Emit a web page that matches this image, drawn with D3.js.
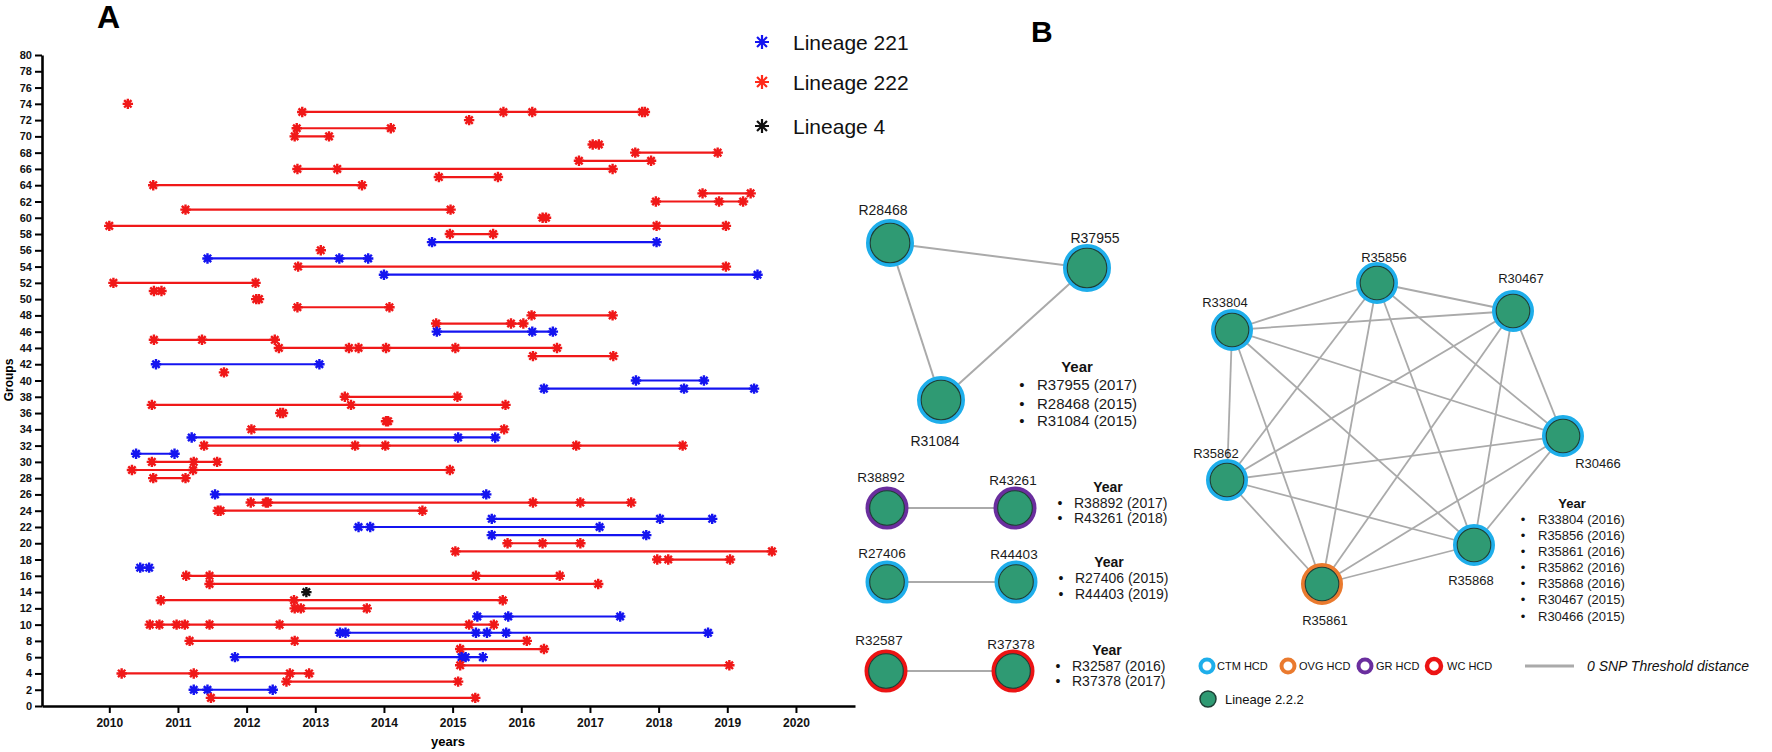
<!DOCTYPE html>
<html>
<head>
<meta charset="utf-8">
<script src="https://cdn.jsdelivr.net/npm/d3@7"></script>
<style>
  body { margin: 0; background: #fff; }
  svg { display: block; }
  text { font-family: "Liberation Sans", Arial, sans-serif; }
</style>
</head>
<body>
<div id="chart"></div>
<script>
// ---- Panel A data: one entry per group row ----
const groupIds = [74, 73, 72, 71, 70, 69, 68, 67, 66, 65, 64, 63, 62, 61, 60, 59, 58, 57, 56, 55,
  54, 53, 52, 51, 50, 49, 48, 47, 46, 45, 44, 43, 42, 41, 40, 39, 38, 37, 36, 35, 34, 33, 32, 31,
  30, 29, 28, 26, 25, 24, 23, 22, 21, 20, 19, 18, 17, 16, 15, 14, 13, 12, 11, 10, 9, 8, 7, 6, 5,
  4, 3, 2, 1];
const groupLineage = ["222", "222", "222", "222", "222", "222", "222", "222", "222", "222", "222",
  "222", "222", "222", "222", "222", "222", "221", "222", "221", "222", "221", "222", "222", "222",
  "222", "222", "222", "221", "222", "222", "222", "221", "222", "221", "221", "222", "222", "222",
  "222", "222", "221", "222", "221", "222", "222", "222", "221", "222", "222", "221", "221", "221",
  "222", "222", "222", "221", "222", "222", "4", "222", "222", "221", "222", "221", "222", "222",
  "221", "222", "222", "222", "221", "222"];
const groupDates = [
  [2010.27],
  [2012.81, 2015.74, 2016.16, 2017.76, 2017.80],
  [2015.24],
  [2012.73, 2014.10],
  [2012.70, 2013.20],
  [2017.04, 2017.13],
  [2017.66, 2018.86],
  [2016.84, 2017.89],
  [2012.74, 2013.32, 2017.33],
  [2014.80, 2015.66],
  [2010.64, 2013.68],
  [2018.64, 2019.34],
  [2017.96, 2018.88, 2019.23],
  [2011.11, 2014.97],
  [2016.31, 2016.36],
  [2010.00, 2017.97, 2018.98],
  [2014.96, 2015.59],
  [2014.70, 2017.97],
  [2013.08],
  [2011.43, 2013.35, 2013.77],
  [2012.75, 2018.98],
  [2014.00, 2019.44],
  [2010.06, 2012.13],
  [2010.65, 2010.76],
  [2012.14, 2012.18],
  [2012.74, 2014.08],
  [2016.15, 2017.33],
  [2014.76, 2015.85, 2016.03],
  [2014.77, 2016.16, 2016.46],
  [2010.65, 2011.35, 2012.41],
  [2012.47, 2013.49, 2013.63, 2014.03, 2015.04, 2016.52],
  [2016.17, 2017.34],
  [2010.68, 2013.06],
  [2011.67],
  [2017.67, 2018.66],
  [2016.33, 2018.37, 2019.39],
  [2013.43, 2015.07],
  [2010.62, 2013.52, 2015.77],
  [2012.49, 2012.53],
  [2014.03, 2014.06],
  [2012.07, 2015.75],
  [2011.20, 2015.08, 2015.62],
  [2011.38, 2013.58, 2014.02, 2016.80, 2018.35],
  [2010.39, 2010.95],
  [2010.62, 2011.23, 2011.57],
  [2010.33, 2011.22, 2014.96],
  [2010.64, 2011.11],
  [2011.54, 2015.49],
  [2012.06, 2012.28, 2012.31, 2016.17, 2016.86, 2017.60],
  [2011.58, 2011.62, 2014.56],
  [2015.57, 2018.02, 2018.78],
  [2013.63, 2013.80, 2017.14],
  [2015.57, 2017.82],
  [2015.80, 2016.31, 2016.86],
  [2015.04, 2019.65],
  [2017.98, 2018.14, 2019.04],
  [2010.45, 2010.58],
  [2011.12, 2011.46, 2015.34, 2016.56],
  [2011.46, 2017.12],
  [2012.87],
  [2010.75, 2012.69, 2015.73],
  [2012.70, 2012.79, 2013.75],
  [2015.36, 2015.81, 2017.44],
  [2010.59, 2010.73, 2010.98, 2011.10, 2011.46, 2012.48, 2015.24, 2015.60],
  [2013.36, 2013.44, 2015.34, 2015.50, 2015.78, 2018.72],
  [2011.17, 2012.70, 2016.08],
  [2015.11, 2016.33],
  [2011.83, 2015.13, 2015.19, 2015.44],
  [2015.11, 2019.03],
  [2010.18, 2011.23, 2012.63, 2012.91],
  [2012.58, 2015.08],
  [2011.23, 2011.43, 2012.38],
  [2011.48, 2015.33]
];
const yearTicks = [2010, 2011, 2012, 2013, 2014, 2015, 2016, 2017, 2018, 2019, 2020];
const groupTicks = d3.range(0, 81, 2);
const lineageKeys = ["221", "222", "4"];
const lineageLabels = ["Lineage 221", "Lineage 222", "Lineage 4"];

// ---- Panel B data: clusters ----
const clusterNodes = [
  ["R28468", "R37955", "R31084"],
  ["R38892", "R43261"],
  ["R27406", "R44403"],
  ["R32587", "R37378"],
  ["R33804", "R35856", "R30467", "R30466", "R35868", "R35861", "R35862"]
];
const clusterYearList = [
  ["R37955 (2017)", "R28468 (2015)", "R31084 (2015)"],
  ["R38892 (2017)", "R43261 (2018)"],
  ["R27406 (2015)", "R44403 (2019)"],
  ["R32587 (2016)", "R37378 (2017)"],
  ["R33804 (2016)", "R35856 (2016)", "R35861 (2016)", "R35862 (2016)", "R35868 (2016)",
   "R30467 (2015)", "R30466 (2015)"]
];
const nodeSite = {
  R28468: "CTM", R37955: "CTM", R31084: "CTM", R38892: "GR", R43261: "GR",
  R27406: "CTM", R44403: "CTM", R32587: "WC", R37378: "WC",
  R33804: "CTM", R35856: "CTM", R30467: "CTM", R30466: "CTM", R35868: "CTM",
  R35861: "OVG", R35862: "CTM"
};
const siteKeys = ["CTM", "OVG", "GR", "WC"];
const siteLabels = ["CTM HCD", "OVG HCD", "GR HCD", "WC HCD"];

// ---- layout (pixels) ----
const nodeLayout = {
  R28468: [890, 243, -7, -33], R37955: [1087, 268, 8, -30], R31084: [941, 400, -6, 41],
  R38892: [887, 508, -6, -31], R43261: [1015, 508, -2, -28],
  R27406: [887, 582, -5, -29], R44403: [1016, 582, -2, -28],
  R32587: [886, 671, -7, -31], R37378: [1013, 671, -2, -27],
  R33804: [1232, 330, -7, -28], R35856: [1377, 283, 7, -26], R30467: [1513, 311, 8, -33],
  R30466: [1563, 436, 35, 27], R35868: [1474, 545, -3, 35], R35861: [1322, 584, 3, 36],
  R35862: [1227, 480, -11, -27]
};
const clusterStyle = [
  { r: 24, font: 14, listFont: 15, title: [1077, 367], lines: [385, 403.3, 421], bx: 1022, tx: 1037 },
  { r: 21.5, font: 13.5, listFont: 14, title: [1108, 487], lines: [502.5, 518], bx: 1060, tx: 1074 },
  { r: 21.5, font: 13.5, listFont: 14, title: [1109, 561.5], lines: [578, 593.7], bx: 1061, tx: 1075 },
  { r: 21.5, font: 13.5, listFont: 14, title: [1107, 649.5], lines: [665.5, 681], bx: 1058, tx: 1072 },
  { r: 21, font: 13, listFont: 13, title: [1572, 503.5], lines: [519.3, 535.2, 551.6, 567.3, 583, 599.8, 616], bx: 1523, tx: 1538 }
];

const lineageColor = { "221": "#1414f0", "222": "#f01818", "4": "#111" };
const siteColor = { CTM: "#1eaeea", OVG: "#ea7a2e", GR: "#6a2e9e", WC: "#ec1414" };
const nodeFill = "#2f9a73";
const edgeColor = "#aaaaaa";

const svg = d3.select("#chart").append("svg")
  .attr("width", 1772)
  .attr("height", 752);

// 8-armed asterisk
function star(r) {
  const a = r * Math.SQRT1_2;
  return `M${-r},0L${r},0M0,${-r}L0,${r}M${-a},${-a}L${a},${a}M${-a},${a}L${a},${-a}`;
}

// ================= PANEL A =================
const x = d3.scaleLinear().domain([2009.02, 2020.86]).range([42, 855]);
const y = d3.scaleLinear().domain([0, 80]).range([706, 55]);

const plot = svg.append("g");
groupIds.forEach((g, i) => {
  const dates = groupDates[i];
  const col = lineageColor[groupLineage[i]];
  if (dates.length > 1) {
    plot.append("line")
      .attr("x1", x(d3.min(dates))).attr("x2", x(d3.max(dates)))
      .attr("y1", y(g)).attr("y2", y(g))
      .attr("stroke", col).attr("stroke-width", 2.2);
  }
  dates.forEach(d => {
    plot.append("path")
      .attr("d", star(5.2))
      .attr("transform", `translate(${x(d)},${y(g)})`)
      .attr("fill", "none")
      .attr("stroke", col)
      .attr("stroke-width", 2.4);
  });
});

const gx = svg.append("g")
  .attr("transform", "translate(0,706)")
  .call(d3.axisBottom(x).tickValues(yearTicks).tickFormat(d3.format("d"))
    .tickSize(7).tickSizeOuter(0).tickPadding(5));
const gy = svg.append("g")
  .attr("transform", "translate(42,0)")
  .call(d3.axisLeft(y).tickValues(groupTicks).tickSize(7).tickSizeOuter(0).tickPadding(3));

[gx, gy].forEach(g => {
  g.select(".domain").attr("stroke", "#000").attr("stroke-width", 2.6);
  g.selectAll(".tick line").attr("stroke", "#000").attr("stroke-width", 2);
  g.selectAll(".tick text").attr("fill", "#111").style("font-weight", "bold");
});
gx.selectAll(".tick text").style("font-size", "12px");
gy.selectAll(".tick text").style("font-size", "11px");

svg.append("text")
  .attr("x", 448).attr("y", 746)
  .attr("text-anchor", "middle")
  .style("font-size", "13px").style("font-weight", "bold")
  .text("years");

svg.append("text")
  .attr("transform", "translate(13,380) rotate(-90)")
  .attr("text-anchor", "middle")
  .style("font-size", "12px").style("font-weight", "bold")
  .text("Groups");

svg.append("text")
  .attr("x", 97).attr("y", 28)
  .style("font-size", "32px").style("font-weight", "bold")
  .text("A");

// legend for panel A
const legA = svg.append("g");
lineageKeys.forEach((k, i) => {
  const cy = [42, 82, 126][i];
  legA.append("path")
    .attr("d", star(7))
    .attr("transform", `translate(762,${cy})`)
    .attr("fill", "none")
    .attr("stroke", lineageColor[k] === "#f01818" ? "#ff2a1a" : lineageColor[k])
    .attr("stroke-width", 2.2);
  legA.append("text")
    .attr("x", 793).attr("y", cy + 7.5)
    .style("font-size", "21px")
    .attr("fill", "#111")
    .text(lineageLabels[i]);
});

// ================= PANEL B =================
svg.append("text")
  .attr("x", 1031).attr("y", 42)
  .style("font-size", "30px").style("font-weight", "bold")
  .text("B");

const net = svg.append("g");
clusterNodes.forEach((nodes, ci) => {
  const st = clusterStyle[ci];
  // edges: every pair within the cluster is linked
  for (let i = 0; i < nodes.length; i++) {
    for (let j = i + 1; j < nodes.length; j++) {
      const a = nodeLayout[nodes[i]], b = nodeLayout[nodes[j]];
      net.append("line")
        .attr("x1", a[0]).attr("y1", a[1]).attr("x2", b[0]).attr("y2", b[1])
        .attr("stroke", edgeColor).attr("stroke-width", ci === 4 ? 1.8 : 2);
    }
  }
});
clusterNodes.forEach((nodes, ci) => {
  const st = clusterStyle[ci];
  nodes.forEach(n => {
    const p = nodeLayout[n];
    net.append("circle")
      .attr("cx", p[0]).attr("cy", p[1]).attr("r", st.r - 2.2)
      .attr("fill", "none")
      .attr("stroke", siteColor[nodeSite[n]])
      .attr("stroke-width", 4.4);
    net.append("circle")
      .attr("cx", p[0]).attr("cy", p[1]).attr("r", st.r - 4.2)
      .attr("fill", nodeFill)
      .attr("stroke", "#1d3f35")
      .attr("stroke-width", 1.1);
    net.append("text")
      .attr("x", p[0] + p[2]).attr("y", p[1] + p[3] + st.font * 0.36)
      .attr("text-anchor", "middle")
      .style("font-size", st.font + "px")
      .attr("fill", "#1a1a1a")
      .text(n);
  });
  // year list
  net.append("text")
    .attr("x", st.title[0]).attr("y", st.title[1] + st.listFont * 0.36)
    .attr("text-anchor", "middle")
    .style("font-size", st.listFont + "px").style("font-weight", "bold")
    .attr("fill", "#111")
    .text("Year");
  clusterYearList[ci].forEach((t, k) => {
    const ly = st.lines[k] + st.listFont * 0.36;
    net.append("text")
      .attr("x", st.bx).attr("y", ly)
      .attr("text-anchor", "middle")
      .style("font-size", st.listFont + "px")
      .attr("fill", "#111")
      .text("•");
    net.append("text")
      .attr("x", st.tx).attr("y", ly)
      .style("font-size", st.listFont + "px")
      .attr("fill", "#1a1a1a")
      .text(t);
  });
});

// legend for panel B
const legB = svg.append("g");
const siteX = [1207, 1288, 1365, 1434];
const siteTextX = [1217, 1299, 1376, 1447];
siteKeys.forEach((k, i) => {
  legB.append("circle")
    .attr("cx", siteX[i]).attr("cy", 666).attr("r", k === "WC" ? 7 : 6.5)
    .attr("fill", "none")
    .attr("stroke", siteColor[k])
    .attr("stroke-width", k === "WC" ? 4.5 : 4);
  legB.append("text")
    .attr("x", siteTextX[i]).attr("y", 670)
    .style("font-size", "11px")
    .attr("fill", "#111")
    .text(siteLabels[i]);
});
legB.append("line")
  .attr("x1", 1525).attr("x2", 1574).attr("y1", 666).attr("y2", 666)
  .attr("stroke", edgeColor).attr("stroke-width", 3);
legB.append("text")
  .attr("x", 1587).attr("y", 671)
  .style("font-size", "14px").style("font-style", "italic")
  .attr("fill", "#111")
  .text("0 SNP Threshold distance");
legB.append("circle")
  .attr("cx", 1208).attr("cy", 699).attr("r", 8)
  .attr("fill", nodeFill).attr("stroke", "#1d3f35").attr("stroke-width", 1.5);
legB.append("text")
  .attr("x", 1225).attr("y", 704)
  .style("font-size", "13px")
  .attr("fill", "#111")
  .text("Lineage 2.2.2");
</script>
</body>
</html>
